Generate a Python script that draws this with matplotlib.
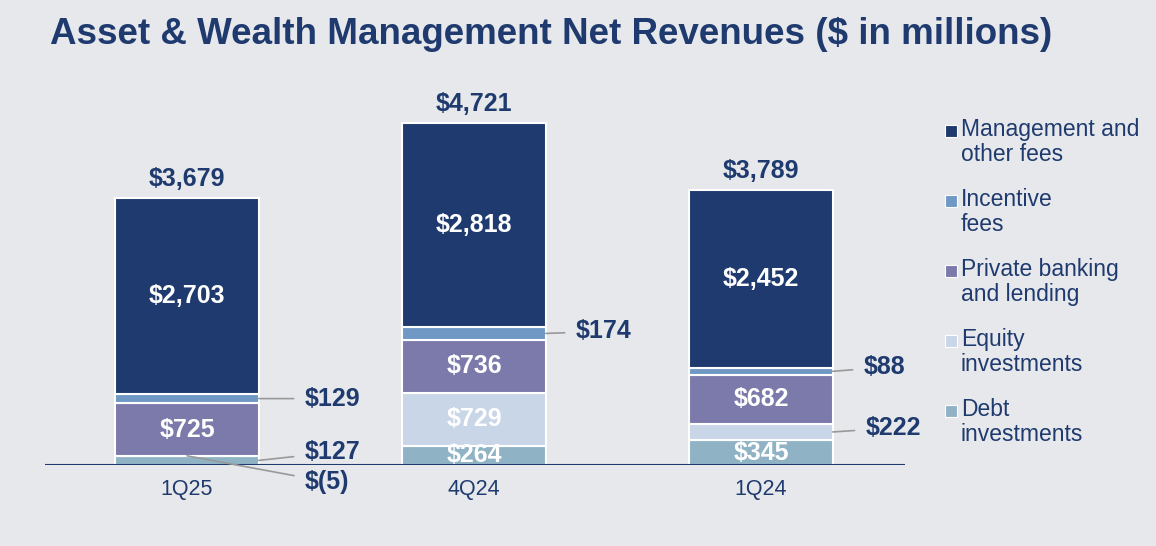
import matplotlib.pyplot as plt
from matplotlib.patches import Rectangle

plt.rcParams['font.family'] = ['Liberation Sans', 'DejaVu Sans']

quarters = ['1Q25', '4Q24', '1Q24']
debt = [127, 264, 345]
equity = [-5, 729, 222]
private_banking = [725, 736, 682]
incentive = [129, 174, 88]
mgmt = [2703, 2818, 2452]
totals = [3679, 4721, 3789]

series_names = ['Management and\nother fees', 'Incentive\nfees', 'Private banking\nand lending',
                'Equity\ninvestments', 'Debt\ninvestments']
colors = ['#1f3a6e', '#6f98c5', '#7b7aaa', '#c9d6e8', '#8fb3c5']
navy = '#1f3a6e'
bg = '#e6e8eb'

W, H = 1156, 546
fig = plt.figure(figsize=(W / 100, H / 100), dpi=100, facecolor=bg)
ax = fig.add_axes([45 / W, 1 - 465 / H, 860 / W, (465 - 81) / H])
ax.set_facecolor(bg)
x = list(range(len(quarters)))
bw = 0.5

stack = [debt, equity, private_banking, incentive, mgmt]
stack_colors = [colors[4], colors[3], colors[2], colors[1], colors[0]]
bottoms = [0, 0, 0]
mids = []
for vals, c in zip(stack, stack_colors):
    b = [max(v, 0) for v in vals]
    ax.bar(x, b, bw, bottom=bottoms, color=c, edgecolor='white', linewidth=1.5)
    mids.append([bt + v / 2 for bt, v in zip(bottoms, b)])
    bottoms = [bt + v for bt, v in zip(bottoms, b)]

ax.set_xlim(-0.495, 2.502)
ax.set_ylim(0, 5300)
ax.axhline(0, color=navy, lw=1.5)
for s in ax.spines.values():
    s.set_visible(False)
ax.set_yticks([])
ax.set_xticks(x)
ax.set_xticklabels(quarters, fontsize=15.5, color=navy)
ax.tick_params(axis='x', length=0, pad=10)

# totals
for i, t in enumerate(totals):
    ax.annotate(f'${t:,}', (x[i], bottoms[i]), xytext=(0, 7), textcoords='offset pixels',
                ha='center', va='bottom', fontsize=18, fontweight='bold', color=navy)

# inside labels
inside = [(4, [0, 1, 2]), (2, [0, 1, 2]), (1, [1]), (0, [1, 2])]
for si, idxs in inside:
    for i in idxs:
        ax.text(x[i], mids[si][i], f'${stack[si][i]:,}', ha='center', va='center',
                fontsize=18, fontweight='bold', color='white')

# outside labels with leaders
def callout(si, i, dx, dy, text=None, xa=None):
    xa = x[i] + bw / 2 if xa is None else xa
    label = text if text is not None else f'${stack[si][i]:,}'
    ax.annotate(label, (xa, mids[si][i]), xytext=(dx, dy), textcoords='offset pixels',
                ha='left', va='center', fontsize=18, fontweight='bold', color=navy,
                arrowprops=dict(arrowstyle='-', color='#999999', lw=1.2,
                                shrinkA=6, shrinkB=0))

callout(3, 0, 46, 0)
callout(0, 0, 46, 8)
callout(1, 0, 118, -26, text='$(5)', xa=x[0])
callout(3, 1, 30, 2)
callout(3, 2, 31, 4)
callout(1, 2, 33, 4)

# legend
for k, (name, c) in enumerate(zip(series_names, colors)):
    yc = 131 + k * 70
    fig.patches.append(Rectangle((945 / W, 1 - (yc + 6) / H), 12 / W, 12 / H,
                                 transform=fig.transFigure, facecolor=c,
                                 edgecolor='white', lw=0.8))
    fig.text(961 / W, 1 - (yc - 13) / H, name, ha='left', va='top', fontsize=16.5,
             color=navy, linespacing=1.12)

fig.text(50 / W, 1 - 35 / H, 'Asset & Wealth Management Net Revenues ($ in millions)',
         ha='left', va='center', fontsize=26.5, fontweight='bold', color=navy)

fig.savefig('out.png', dpi=100, facecolor=bg)
